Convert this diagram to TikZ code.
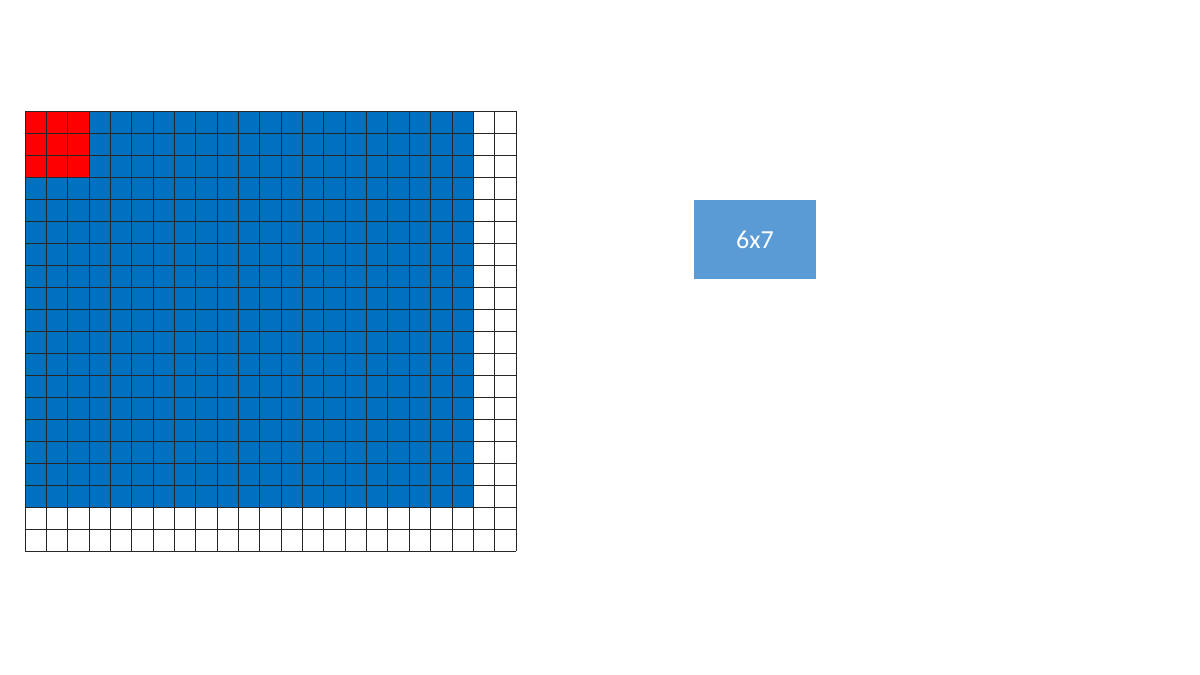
\documentclass[tikz,border=0pt]{standalone}
\usepackage{fontspec}
\setsansfont{Carlito}
\definecolor{gridB}{RGB}{0,112,192}
\definecolor{gridR}{RGB}{255,0,0}
\definecolor{boxB}{RGB}{91,155,213}

\begin{document}
\begin{tikzpicture}[x=0.5pt,y=-0.5pt]
\useasboundingbox (0,0) rectangle (1200,675);
% cells are 21.35 wide, 22 tall; 23 columns, 20 rows
\fill[gridB] (25,111) rectangle (473.05,507);
\fill[gridR] (25,111) rectangle (89.05,177);
\foreach \i in {0,...,23} \draw[black!85,line width=0.5pt] (25+21.35*\i,111)--(25+21.35*\i,551);
\foreach \j in {0,...,20} \draw[black!85,line width=0.5pt] (25,111+22*\j)--(516.05,111+22*\j);
\node[fill=boxB,text=white,minimum width=61pt,minimum height=39.5pt,inner sep=0pt,font=\sffamily\fontsize{13}{15}\selectfont] (prod) at (755,239.5) {6x7};
\end{tikzpicture}
\end{document}
